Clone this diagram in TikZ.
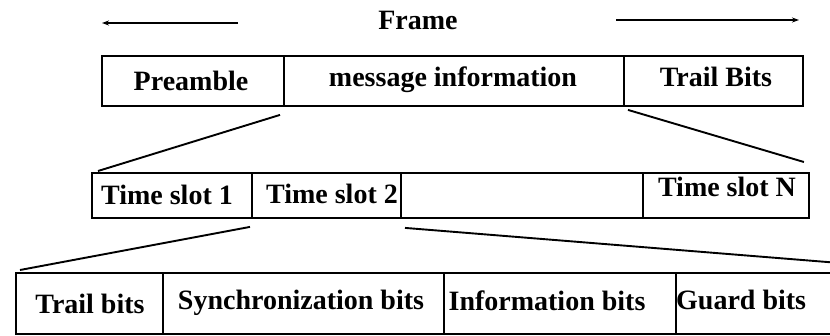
\documentclass[tikz,border=0pt]{standalone}
\usepackage{fontspec}
\setmainfont{Liberation Serif}
\usetikzlibrary{arrows.meta}
\begin{document}
\begin{tikzpicture}[x=1pt,y=-1pt,
  cell/.style={draw, line width=1.9pt, inner sep=0pt, anchor=north west},
  lbl/.style={font=\fontsize{28}{32}\selectfont\bfseries, inner sep=0pt},
  fan/.style={line width=1.9pt},
  span/.style={line width=1.5pt, -{Stealth[length=7pt,width=5pt]}}]
\useasboundingbox (0,0) rectangle (830,335);

% frame title with its extent arrows
\node[lbl] (frame) at (418,20) {Frame};
\coordinate (lfrom) at (238,23);
\coordinate (lto) at (102,23);
\coordinate (rfrom) at (616,20);
\coordinate (rto) at (799,20);
\draw[span] (lfrom) -- (lto);
\draw[span] (rfrom) -- (rto);

% frame row
\node[cell, minimum width=182, minimum height=50] (pre) at (101,55) {};
\node[cell, minimum width=340, minimum height=50] (msg) at (283,55) {};
\node[cell, minimum width=179, minimum height=50] (trail) at (623,55) {};
\node[lbl] (preT) at (191,81) {Preamble};
\node[lbl] (msgT) at (453,80) {message information};
\node[lbl] (trailT) at (716,77) {Trail Bits};

% time slot row
\node[cell, minimum width=160, minimum height=45] (ts1) at (91,172) {};
\node[cell, minimum width=149, minimum height=45] (ts2) at (251,172) {};
\node[cell, minimum width=242, minimum height=45] (gap) at (400,172) {};
\node[cell, minimum width=166, minimum height=45] (tsN) at (642,172) {};
\node[lbl] (ts1T) at (167,195) {Time slot 1};
\node[lbl] (ts2T) at (332,194) {Time slot 2};
\node[lbl] (tsNT) at (727,187) {Time slot N};

% bit fields of one slot
\node[cell, minimum width=147, minimum height=61] (tb) at (15,272) {};
\node[cell, minimum width=281, minimum height=61] (sync) at (162,272) {};
\node[cell, minimum width=232, minimum height=61] (info) at (443,272) {};
\node[cell, minimum width=170, minimum height=61] (guard) at (675,272) {};
\node[lbl] (tbT) at (90,304) {Trail bits};
\node[lbl] (syncT) at (301,303) {Synchronization bits};
\node[lbl] (infoT) at (547,301) {Information bits};
\node[lbl, anchor=west] (guardT) at (676,300) {Guard bits};

% expansion lines
\draw[fan] ([shift={(-3,8)}]msg.south west) -- ([shift={(7,-1)}]ts1.north west);
\draw[fan] ([shift={(5,3)}]trail.south west) -- ([shift={(-6,-10)}]tsN.north east);
\draw[fan] ([shift={(-1,8)}]ts2.south west) -- ([shift={(5,-2)}]tb.north west);
\draw[fan] ([shift={(5,9)}]gap.south west) -- ([shift={(5,-8)}]guard.north east);
\end{tikzpicture}
\end{document}
